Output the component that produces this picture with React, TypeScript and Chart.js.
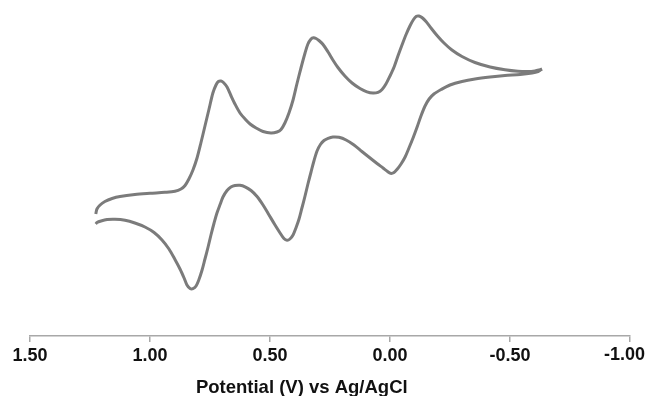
import React, { useEffect, useRef } from "react";
import { Chart, registerables } from "chart.js";

Chart.register(...registerables);

// Potential (V vs Ag/AgCl) and current (arbitrary units)
// Forward sweep (upper trace), from +1.23 V towards -0.63 V
const upperPotential = [
  1.226, 1.221, 1.208, 1.188, 1.158, 1.125, 1.063, 1.0, 0.938, 0.896, 0.871, 0.854, 0.838,
  0.821, 0.804, 0.788, 0.771, 0.754, 0.738, 0.725, 0.715, 0.704, 0.694, 0.679, 0.663, 0.646,
  0.625, 0.604, 0.583, 0.558, 0.529, 0.496, 0.471, 0.454, 0.438, 0.421, 0.404, 0.388, 0.371,
  0.354, 0.342, 0.329, 0.319, 0.308, 0.296, 0.279, 0.258, 0.238, 0.217, 0.188, 0.158, 0.125,
  0.096, 0.071, 0.05, 0.033, 0.017, 0.0, -0.017, -0.033, -0.05, -0.067, -0.083, -0.098, -0.11,
  -0.121, -0.133, -0.15, -0.171, -0.196, -0.225, -0.258, -0.3, -0.354, -0.417, -0.479, -0.533,
  -0.575, -0.604, -0.621, -0.633,
];
const upperCurrent = [
  12.2, 12.7, 13.1, 13.45, 13.75, 13.95, 14.15, 14.27, 14.37, 14.48, 14.7, 15.05, 15.7,
  16.6, 17.8, 19.3, 21.0, 22.7, 24.3, 25.1, 25.45, 25.5, 25.35, 24.9, 24.05, 23.2,
  22.3, 21.7, 21.2, 20.8, 20.45, 20.3, 20.4, 20.65, 21.3, 22.3, 23.6, 25.2, 26.8,
  28.3, 29.2, 29.7, 29.82, 29.75, 29.55, 29.15, 28.4, 27.6, 26.85, 26.0, 25.3, 24.75,
  24.42, 24.3, 24.37, 24.65, 25.2, 26.0, 26.9, 28.0, 29.1, 30.15, 31.0, 31.65, 31.97,
  32.0, 31.85, 31.45, 30.8, 30.05, 29.3, 28.6, 27.95, 27.35, 26.9, 26.62, 26.47,
  26.44, 26.5, 26.6, 26.7,
];
// Reverse sweep (lower trace), from -0.63 V back to +1.23 V
const lowerPotential = [
  -0.633, -0.617, -0.592, -0.542, -0.479, -0.417, -0.354, -0.3, -0.25, -0.213, -0.183, -0.163,
  -0.146, -0.129, -0.113, -0.096, -0.079, -0.063, -0.046, -0.029, -0.015, -0.002, 0.01, 0.029,
  0.054, 0.083, 0.117, 0.15, 0.183, 0.213, 0.238, 0.258, 0.275, 0.29, 0.304, 0.317, 0.329,
  0.342, 0.354, 0.367, 0.379, 0.392, 0.404, 0.417, 0.429, 0.442, 0.458, 0.479, 0.504, 0.529,
  0.554, 0.579, 0.604, 0.625, 0.646, 0.663, 0.679, 0.696, 0.708, 0.721, 0.733, 0.746, 0.758,
  0.771, 0.783, 0.796, 0.808, 0.821, 0.833, 0.846, 0.858, 0.875, 0.896, 0.921, 0.95, 0.983,
  1.021, 1.063, 1.104, 1.146, 1.179, 1.204, 1.221, 1.226,
];
const lowerCurrent = [
  26.7, 26.45, 26.3, 26.15, 26.05, 25.9, 25.7, 25.45, 25.1, 24.65, 24.2, 23.7,
  23.0, 22.0, 20.9, 19.8, 18.8, 17.9, 17.2, 16.65, 16.32, 16.27, 16.45, 16.8,
  17.25, 17.8, 18.45, 19.1, 19.6, 19.87, 19.9, 19.77, 19.55, 19.15, 18.5, 17.5, 16.4,
  15.2, 14.0, 12.8, 11.7, 10.8, 10.1, 9.7, 9.57, 9.75, 10.3, 11.1, 12.1, 13.1,
  13.95, 14.55, 14.92, 15.07, 15.05, 14.9, 14.55, 13.9, 13.15, 12.3, 11.3, 10.1, 8.9,
  7.7, 6.6, 5.65, 5.0, 4.73, 4.75, 5.1, 5.8, 6.7, 7.65, 8.7, 9.6, 10.35,
  10.9, 11.3, 11.57, 11.67, 11.64, 11.5, 11.35, 11.2,
];
const xMin = -1.0;
const xMax = 1.5;
const xStep = 0.5;
const xTitle = "Potential (V) vs Ag/AgCl";

const toPoints = (xs: number[], ys: number[]) => xs.map((x, i) => ({ x, y: ys[i] }));
const fmt = (v: number) => (Math.abs(v) < 1e-9 ? 0 : v).toFixed(2);

export default function App() {
  const canvasRef = useRef<HTMLCanvasElement | null>(null);

  useEffect(() => {
    if (!canvasRef.current) return;
    const lineColor = "#7b7b7b";
    const axisColor = "#a8a8a8";
    const fontFamily = "'Liberation Sans', Arial, sans-serif";

    const titlePlugin = {
      id: "xAxisTitle",
      afterDraw(chart: any) {
        const { ctx, chartArea } = chart;
        const xs = chart.scales.x;
        ctx.save();
        ctx.fillStyle = "#111";
        // edge label (kept inside the canvas, right-aligned)
        ctx.font = `bold 18px ${fontFamily}`;
        ctx.textAlign = "right";
        ctx.textBaseline = "middle";
        ctx.fillText(fmt(xMin), Math.min(xs.getPixelForValue(xMin) + 15, chart.width - 2), chartArea.bottom + 19.5);
        // axis title
        ctx.font = `bold 18.5px ${fontFamily}`;
        ctx.textAlign = "center";
        ctx.textBaseline = "alphabetic";
        const x = chartArea.left + (chartArea.right - chartArea.left) * 0.453;
        ctx.fillText(xTitle, x, chartArea.bottom + 57);
        ctx.restore();
      },
    };

    const lineStyle = {
      showLine: true,
      borderColor: lineColor,
      borderWidth: 3,
      pointRadius: 0,
      tension: 0.3,
    };

    const chart = new Chart(canvasRef.current, {
      type: "scatter",
      data: {
        datasets: [
          { data: toPoints(upperPotential, upperCurrent), ...lineStyle },
          { data: toPoints(lowerPotential, lowerCurrent), ...lineStyle },
        ],
      },
      options: {
        responsive: false,
        animation: false,
        layout: { padding: { left: 30, right: 17, top: 0, bottom: 0 } },
        plugins: { legend: { display: false }, tooltip: { enabled: false } },
        scales: {
          x: {
            type: "linear",
            min: xMin,
            max: xMax,
            reverse: true,
            afterFit: (scale: any) => {
              scale.paddingLeft = 0;
              scale.paddingRight = 0;
              scale.height = 60;
            },
            grid: {
              display: true,
              drawOnChartArea: false,
              drawTicks: true,
              tickLength: 6,
              color: axisColor,
              lineWidth: 1.5,
            },
            border: { display: true, color: axisColor, width: 1.5 },
            ticks: {
              stepSize: xStep,
              padding: 3,
              maxRotation: 0,
              autoSkip: false,
              color: "#111",
              font: { family: fontFamily, weight: "bold", size: 18 },
              callback: (v: any) => (Math.abs(Number(v) - xMin) < 1e-9 ? "" : fmt(Number(v))),
            },
          },
          y: {
            type: "linear",
            display: false,
            min: 0,
            max: 33.6,
          },
        },
      },
      plugins: [titlePlugin],
    } as any);

    return () => chart.destroy();
  }, []);

  return (
    <div style={{ position: "fixed", left: 0, top: 0, width: 647, height: 396, background: "#fff" }}>
      <canvas ref={canvasRef} width={647} height={396} />
    </div>
  );
}
